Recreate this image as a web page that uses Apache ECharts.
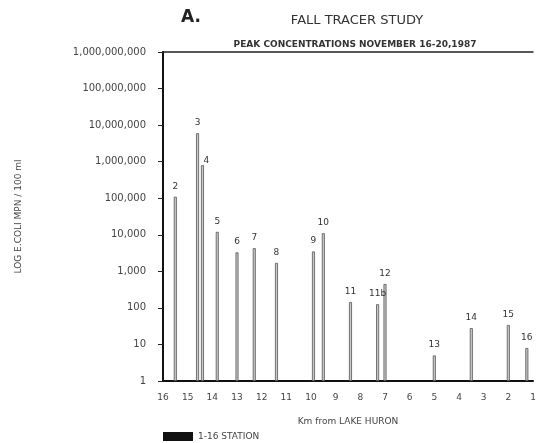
<!DOCTYPE html>
<html>
<head>
<meta charset="utf-8">
<script src="https://cdn.jsdelivr.net/npm/echarts@6/dist/echarts.min.js"></script>
<style>html,body{margin:0;padding:0;background:#fff}#c{width:540px;height:443px}</style>
</head>
<body>
<div id="c"></div>
<script>
var stations = ['2','3','4','5','6','7','8','9','10','11','11b','12','13','14','15','16'];
var kmFromLake = [15.5,14.6,14.4,13.8,13.0,12.3,11.4,9.9,9.5,8.4,7.3,7.0,5.0,3.5,2.0,1.25];
var peakConc = [110000,6000000,800000,12000,3300,4300,1700,3500,11000,145,126,450,5,28,34,8];
var labelOffsets = {'4':[4,6]};

var data = stations.map(function(s,i){
  return {name:s, value:[kmFromLake[i], peakConc[i]],
    label:{offset: labelOffsets[s] || [0,0]}};
});
var font = 'DejaVu Sans';
var chart = echarts.init(document.getElementById('c'));
chart.setOption({
  animation:false,
  backgroundColor:'#fff',
  title:[
    {text:'A.', left:176, top:4, textStyle:{fontFamily:font,fontSize:17,fontWeight:'bold',color:'#222'}},
    {text:'FALL TRACER STUDY', left:352, top:9, textAlign:'center', textStyle:{fontFamily:font,fontSize:13,fontWeight:'normal',color:'#333'}},
    {text:'PEAK CONCENTRATIONS NOVEMBER 16-20,1987', left:350, top:35, textAlign:'center', textStyle:{fontFamily:font,fontSize:9,fontWeight:'bold',color:'#333'}}
  ],
  legend:{left:158, top:427, itemWidth:30, itemHeight:9, icon:'rect', itemGap:5,
    textStyle:{fontFamily:font,fontSize:9,color:'#444'},
    data:[{name:'1-16 STATION', itemStyle:{color:'#111', borderWidth:0}}]},
  grid:{left:163, right:7, top:52, bottom:62},
  xAxis:[{
    type:'value', min:1, max:16, interval:1, inverse:true,
    name:'Km from LAKE HURON', nameLocation:'middle', nameGap:36,
    nameTextStyle:{fontFamily:font,fontSize:9,color:'#444'},
    axisLine:{lineStyle:{color:'#111',width:2}},
    axisTick:{show:false}, splitLine:{show:false},
    axisLabel:{fontFamily:font,fontSize:9,color:'#444',margin:12}
  },{
    type:'value', min:1, max:16, position:'top',
    axisLine:{show:true,lineStyle:{color:'#222',width:1.5}},
    axisTick:{show:false}, axisLabel:{show:false}, splitLine:{show:false}
  }],
  yAxis:{
    type:'log', logBase:10, min:1, max:1000000000,
    name:'LOG E.COLI MPN / 100 ml', nameLocation:'middle', nameGap:140, nameRotate:90,
    nameTextStyle:{fontFamily:font,fontSize:9,color:'#444'},
    axisLine:{show:true,lineStyle:{color:'#111',width:2}},
    axisTick:{show:true,inside:false,length:5,lineStyle:{color:'#222'}},
    splitLine:{show:false},
    axisLabel:{fontFamily:font,fontSize:10,color:'#444',margin:17,
      formatter:function(v){return Math.round(v).toLocaleString('en-US');}}
  },
  series:[{
    name:'1-16 STATION', type:'bar', barWidth:3, xAxisIndex:0,
    itemStyle:{color:'#c8c8c8', borderColor:'#555', borderWidth:0.8},
    label:{show:true, position:'top', distance:6, formatter:'{b}',
      fontFamily:font, fontSize:9, color:'#333'},
    data:data
  }]
});
</script>
</body>
</html>
